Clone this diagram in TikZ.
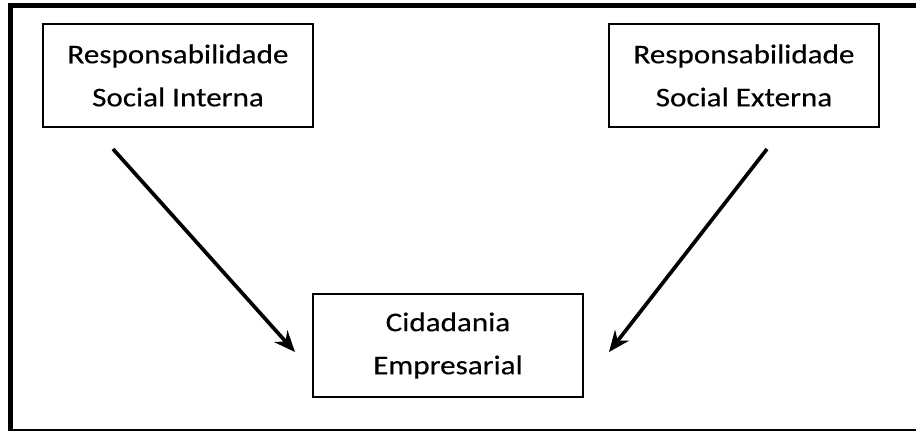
\documentclass[tikz,border=0pt]{standalone}
\usepackage{fontspec}
\setmainfont[FakeStretch=1.15,FakeBold=0.3]{Carlito}
\usetikzlibrary{arrows.meta}
\begin{document}
\begin{tikzpicture}[x=0.02cm,y=-0.02cm,
  caixa/.style={draw,line width=0.9pt,minimum width=270*0.02cm,minimum height=103*0.02cm,
    align=center,inner sep=0pt,font=\fontsize{15.4}{24.5}\selectfont},
  seta/.style={line width=2.1pt,-{Stealth[length=12pt,width=10pt]}}]
\useasboundingbox(0,0)rectangle(916,432);
\draw[line width=2.8pt](10.5,3)--(10.5,431);
\draw[line width=2.8pt](8,5.5)--(916,5.5);
\draw[line width=0.8pt](8,430)--(916,430);
\node[caixa](interna)at(178,75.5){Responsabilidade\\Social Interna};
\node[caixa](externa)at(744,75.5){Responsabilidade\\Social Externa};
\node[caixa](cidadania)at(448,345.5){Cidadania\\Empresarial};
\coordinate(a)at(113,149);
\coordinate(b)at(295,352);
\coordinate(c)at(767,149);
\coordinate(d)at(609,352);
\draw[seta](a)--(b);
\draw[seta](c)--(d);
\end{tikzpicture}
\end{document}
